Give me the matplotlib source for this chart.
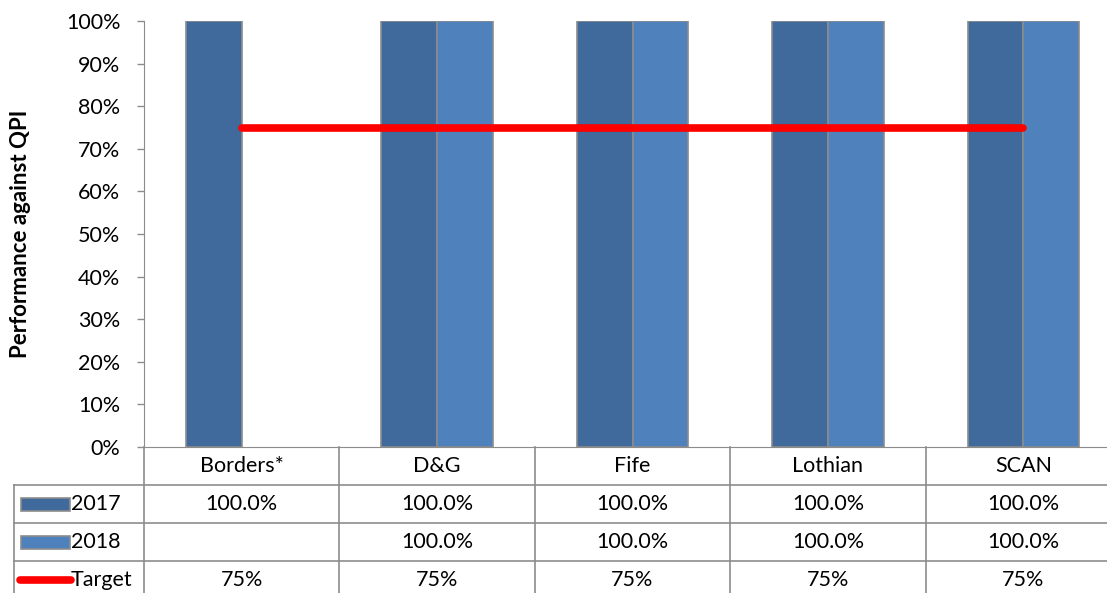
import matplotlib.pyplot as plt
import matplotlib.transforms as mtransforms
from matplotlib.patches import Rectangle
from matplotlib.lines import Line2D

plt.rcParams['font.family'] = ['Lato', 'DejaVu Sans']

categories = ['Borders*', 'D&G', 'Fife', 'Lothian', 'SCAN']
values_2017 = [100.0, 100.0, 100.0, 100.0, 100.0]
values_2018 = [None, 100.0, 100.0, 100.0, 100.0]
target = [75, 75, 75, 75, 75]
series_names = ['2017', '2018', 'Target']

c2017 = '#3F6A9B'
c2018 = '#4F81BD'
edge = '#8C8C8C'
grid_col = '#8C8C8C'
fs = 15.5

W, H = 1107, 593
fig = plt.figure(figsize=(W / 100, H / 100), dpi=100)


def fx(px):
    return px / W


def fy(py):
    return 1 - py / H


ax = fig.add_axes([fx(144), fy(447), fx(1121) - fx(144), fy(21) - fy(447)])

x = list(range(len(categories)))
bw = 0.285
for i in x:
    if values_2017[i] is not None:
        ax.bar(i - bw / 2, values_2017[i], bw, color=c2017, edgecolor=edge, linewidth=1.2)
    if values_2018[i] is not None:
        ax.bar(i + bw / 2, values_2018[i], bw, color=c2018, edgecolor=edge, linewidth=1.2)
ax.plot(x, target, color='#FF0000', linewidth=5.5, solid_capstyle='round', zorder=5)

ax.set_xlim(-0.5, len(categories) - 0.5)
ax.set_ylim(0, 100)
ax.set_yticks(range(0, 101, 10))
ax.set_yticklabels([f'{v}%' for v in range(0, 101, 10)], fontsize=fs)
ax.set_xticks([])
for s in ['top', 'right']:
    ax.spines[s].set_visible(False)
ax.spines['left'].set_color(grid_col)
ax.spines['bottom'].set_color(grid_col)
ax.tick_params(axis='y', colors=grid_col, labelcolor='black', length=5, width=1, pad=12)
ax.set_ylabel('Performance against QPI', fontsize=16, fontweight='bold')
ax.yaxis.set_label_coords(-0.116, 0.5)

# data table under the chart
tr = mtransforms.blended_transform_factory(ax.transData, fig.transFigure)
row_top = [447, 485, 523, 561]
row_h = 38
lw = 1.2

# horizontal lines
for py in row_top[1:]:
    fig.add_artist(Line2D([fx(14), 1], [fy(py), fy(py)], color=grid_col, lw=lw))
# vertical lines at category boundaries
for i in range(len(categories) + 1):
    fig.add_artist(Line2D([i - 0.5, i - 0.5], [fy(447), 0], color=grid_col, lw=lw, transform=tr))
fig.add_artist(Line2D([fx(14), fx(14)], [fy(485), 0], color=grid_col, lw=lw))

# header
for i, c in enumerate(categories):
    fig.text(i, fy(447 + row_h / 2), c, transform=tr, ha='center', va='center', fontsize=fs)

rows = [
    [f'{v:.1f}%' if v is not None else '' for v in values_2017],
    [f'{v:.1f}%' if v is not None else '' for v in values_2018],
    [f'{v}%' for v in target],
]
for r, vals in enumerate(rows):
    yc = fy(row_top[r + 1] + row_h / 2)
    for i, v in enumerate(vals):
        fig.text(i, yc, v, transform=tr, ha='center', va='center', fontsize=fs)
    fig.text(fx(71), yc, series_names[r], ha='left', va='center', fontsize=fs)

# legend keys
for r, col in enumerate([c2017, c2018]):
    yc = fy(row_top[r + 1] + row_h / 2)
    fig.add_artist(Rectangle((fx(21), yc - 6.5 / H), fx(70) - fx(21), 13 / H,
                             facecolor=col, edgecolor=edge, lw=1.2, transform=fig.transFigure))
yc = fy(row_top[3] + row_h / 2)
fig.add_artist(Line2D([fx(20), fx(71)], [yc, yc], color='#FF0000', lw=5.5, solid_capstyle='round'))

fig.savefig('out.png', dpi=100)
